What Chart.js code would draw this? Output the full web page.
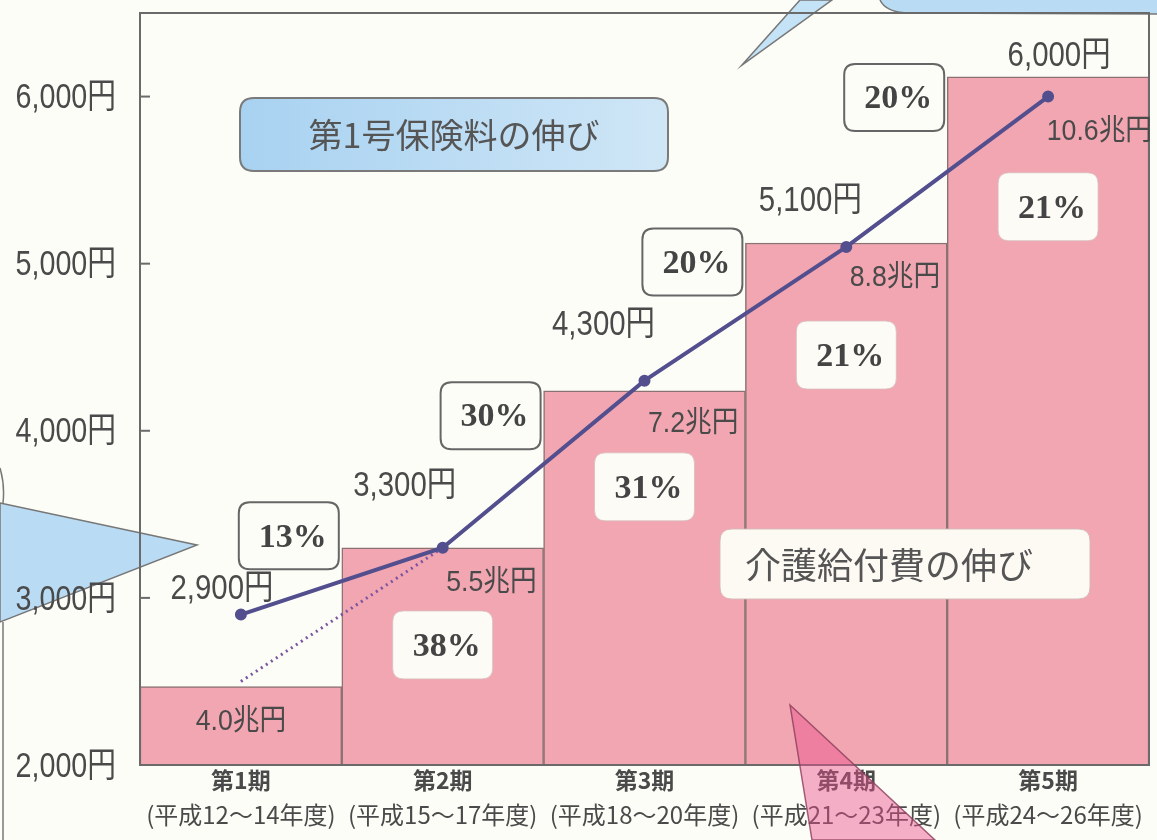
<!DOCTYPE html>
<html><head><meta charset="utf-8">
<script src="https://cdn.jsdelivr.net/npm/chart.js@4.4.1/dist/chart.umd.min.js"></script>
<style>html,body{margin:0;padding:0;background:#fdfdf8;} #wrap{width:1157px;height:840px;position:relative;}</style>
</head><body><div id="wrap"><canvas id="c" width="1157" height="840"></canvas></div>
<script>
// ---- data ----
const periods = ['第1期','第2期','第3期','第4期','第5期'];
const fiscalYears = ['(平成12～14年度)','(平成15～17年度)','(平成18～20年度)','(平成21～23年度)','(平成24～26年度)'];
const premiumYen = [2900, 3300, 4300, 5100, 6000];
const premiumGrowth = ['13%', '30%', '20%', '20%'];
const benefitTrillion = [4.0, 5.5, 7.2, 8.8, 10.6];
const benefitGrowth = ['38%', '31%', '21%', '21%'];
const trendYen = [2500, 3300, null, null, null];
const yTicks = [2000, 3000, 4000, 5000, 6000];

// ---- layout (offsets only) ----
const premLabelOff = [[-19,-25],[-38,-61],[-41,-55],[-36,-46],[11,-40]];
const premGrowthDy = [-12, 35, 15, 1];
const benLabelDy = [36, 35, 33, 35, 55];
const benGrowthDy = [97, 96, 112, 130];

const SANS = '"Liberation Sans","Noto Sans CJK JP",sans-serif';
const CJK = '"Noto Sans CJK JP","Noto Sans",sans-serif';
const SERIF = '"Liberation Serif","DejaVu Serif",serif';
const TXT = '#4a4a4a';

function rr(ctx, x, y, w, h, r) {
  ctx.beginPath();
  ctx.moveTo(x + r, y);
  ctx.lineTo(x + w - r, y); ctx.quadraticCurveTo(x + w, y, x + w, y + r);
  ctx.lineTo(x + w, y + h - r); ctx.quadraticCurveTo(x + w, y + h, x + w - r, y + h);
  ctx.lineTo(x + r, y + h); ctx.quadraticCurveTo(x, y + h, x, y + h - r);
  ctx.lineTo(x, y + r); ctx.quadraticCurveTo(x, y, x + r, y);
  ctx.closePath();
}
// condensed text: draw with horizontal squeeze
function narrowText(ctx, text, x, y, align, sx) {
  ctx.save();
  ctx.translate(x, y);
  ctx.scale(sx, 1);
  ctx.textAlign = align;
  ctx.fillText(text, 0, 0);
  ctx.restore();
}
function pctBox(ctx, cx, cy, w, h, text, fill, stroke, lw) {
  rr(ctx, cx - w/2, cy - h/2, w, h, 11);
  ctx.fillStyle = fill; ctx.fill();
  if (stroke) { ctx.strokeStyle = stroke; ctx.lineWidth = lw; ctx.stroke(); }
  ctx.fillStyle = '#444';
  ctx.font = 'bold 34px ' + SERIF;
  ctx.textAlign = 'center'; ctx.textBaseline = 'middle';
  ctx.fillText(text, cx + 4, cy + 2);
}

const deco = {
  id: 'deco',
  beforeDraw(chart) {
    const ctx = chart.ctx;
    ctx.save();
    ctx.fillStyle = '#fdfdf8';
    ctx.fillRect(0, 0, chart.width, chart.height);
    ctx.beginPath();
    ctx.moveTo(0, 503); ctx.lineTo(197, 545); ctx.lineTo(0, 622); ctx.closePath();
    ctx.fillStyle = '#b9dcf4'; ctx.fill();
    ctx.strokeStyle = '#777'; ctx.lineWidth = 1.5; ctx.stroke();
    ctx.beginPath(); ctx.moveTo(3, 622); ctx.lineTo(3, 840); ctx.stroke();
    ctx.beginPath(); ctx.moveTo(0, 468); ctx.quadraticCurveTo(5, 485, 3, 503); ctx.stroke();
    ctx.beginPath();
    ctx.moveTo(742, 65); ctx.lineTo(800, 0); ctx.lineTo(832, 0); ctx.closePath();
    ctx.fillStyle = '#c4e3f6'; ctx.fill(); ctx.stroke();
    ctx.beginPath();
    ctx.moveTo(880, 0); ctx.quadraticCurveTo(886, 13, 910, 13); ctx.lineTo(1157, 14); ctx.lineTo(1157, 0); ctx.closePath();
    ctx.fillStyle = '#b9dcf4'; ctx.fill();
    ctx.beginPath(); ctx.moveTo(880, 0); ctx.quadraticCurveTo(886, 13, 910, 13); ctx.lineTo(1157, 14); ctx.stroke();
    ctx.restore();
  },
  afterDatasetsDraw(chart) {
    const ctx = chart.ctx, a = chart.chartArea, ys = chart.scales.y;
    const bars = chart.getDatasetMeta(0).data;
    const pts = chart.getDatasetMeta(1).data;
    ctx.save();
    ctx.strokeStyle = '#6a6a6a'; ctx.lineWidth = 2;
    ctx.strokeRect(a.left, a.top, a.right - a.left, a.bottom - a.top);
    ctx.font = '35px ' + SANS; ctx.fillStyle = TXT; ctx.textBaseline = 'middle';
    yTicks.forEach(v => {
      const py = ys.getPixelForValue(v);
      ctx.beginPath(); ctx.moveTo(a.left, py); ctx.lineTo(a.left + 10, py); ctx.stroke();
      narrowText(ctx, v.toLocaleString('en-US') + '円', a.left - 24, py + 2, 'right', 0.82);
    });
    const g = ctx.createLinearGradient(a.left + 100, 0, a.left + 528, 0);
    g.addColorStop(0, '#a8d2f1'); g.addColorStop(1, '#cfe6f6');
    rr(ctx, a.left + 100, a.top + 85, 428, 73, 14);
    ctx.fillStyle = g; ctx.fill(); ctx.strokeStyle = '#7a7a7a'; ctx.lineWidth = 2; ctx.stroke();
    ctx.fillStyle = '#555'; ctx.font = '34px ' + CJK; ctx.textAlign = 'center'; ctx.textBaseline = 'middle';
    ctx.fillText('第1号保険料の伸び', a.left + 314, a.top + 122);

    rr(ctx, a.left + 580, a.top + 516, 370, 70, 12);
    ctx.fillStyle = '#fdf9f3'; ctx.fill(); ctx.strokeStyle = 'rgba(210,185,185,0.9)'; ctx.lineWidth = 1; ctx.stroke();
    ctx.fillStyle = '#555'; ctx.font = '36px ' + CJK; ctx.textAlign = 'left';
    ctx.fillText('介護給付費の伸び', a.left + 605, a.top + 552);

    ctx.font = '29px ' + SANS; ctx.fillStyle = TXT;
    bars.forEach((b, i) => {
      const t = benefitTrillion[i].toFixed(1) + '兆円';
      const right = b.x + b.width / 2;
      if (i === 0) narrowText(ctx, t, b.x, b.y + benLabelDy[i], 'center', 0.92);
      else if (i === bars.length - 1) narrowText(ctx, t, right + 3, b.y + benLabelDy[i], 'right', 0.92);
      else narrowText(ctx, t, right - 7, b.y + benLabelDy[i], 'right', 0.92);
    });
    benefitGrowth.forEach((t, k) => {
      const b = bars[k + 1];
      pctBox(ctx, b.x, b.y + benGrowthDy[k], 100, 68, t, '#fdfbf6', 'rgba(215,190,190,0.8)', 1);
    });
    ctx.font = '35px ' + SANS; ctx.fillStyle = TXT; ctx.textBaseline = 'middle';
    pts.forEach((p, i) => {
      const t = premiumYen[i].toLocaleString('en-US') + '円';
      narrowText(ctx, t, p.x + premLabelOff[i][0], p.y + premLabelOff[i][1], 'center', 0.84);
    });
    premiumGrowth.forEach((t, k) => {
      const b = bars[k];
      const rightEdge = b.x + b.width / 2 - 3;
      pctBox(ctx, rightEdge - 50, pts[k + 1].y + premGrowthDy[k], 100, 67, t, '#fdfdf8', '#666', 2);
    });
    const xs = chart.scales.x;
    periods.forEach((p, i) => {
      const cx = xs.getPixelForValue(i);
      ctx.fillStyle = '#4a4a4a'; ctx.textAlign = 'center';
      ctx.font = 'bold 23px ' + CJK;
      ctx.fillText(p, cx, a.bottom + 15);
      ctx.font = '24px ' + CJK;
      narrowText(ctx, fiscalYears[i], cx, a.bottom + 50, 'center', 1.0);
    });
    ctx.restore();
  },
  afterDraw(chart) {
    const ctx = chart.ctx;
    ctx.save();
    ctx.beginPath();
    ctx.moveTo(790, 705); ctx.lineTo(812, 840); ctx.lineTo(935, 840); ctx.closePath();
    ctx.fillStyle = 'rgba(232,80,140,0.45)'; ctx.fill();
    ctx.strokeStyle = 'rgba(140,60,90,0.8)'; ctx.lineWidth = 1.5; ctx.stroke();
    ctx.restore();
  }
};

new Chart(document.getElementById('c'), {
  data: {
    labels: periods,
    datasets: [
      { type: 'bar', data: benefitTrillion, yAxisID: 'y2', backgroundColor: '#f2a6b1',
        borderColor: '#8a7272', borderWidth: 1.5, barPercentage: 1, categoryPercentage: 1, order: 3 },
      { type: 'line', data: premiumYen, yAxisID: 'y', borderColor: '#534f8e', backgroundColor: '#534f8e',
        borderWidth: 4, pointRadius: 4, pointBackgroundColor: '#534f8e', tension: 0, order: 1 },
      { type: 'line', data: trendYen, yAxisID: 'y', borderColor: '#7a55a0', borderWidth: 3,
        borderDash: [2, 4], pointRadius: 0, spanGaps: false, order: 2 }
    ]
  },
  options: {
    responsive: false, animation: false, devicePixelRatio: 1,
    layout: { padding: { top: 13, right: 7, left: 0, bottom: 0 } },
    plugins: { legend: { display: false }, tooltip: { enabled: false } },
    scales: {
      x: { grid: { display: false, drawTicks: false }, border: { display: false },
           ticks: { display: false },
           afterFit(s) { s.height = 75; s.paddingLeft = 0; s.paddingRight = 0; } },
      y: { min: 2000, max: 6500, position: 'left',
           grid: { display: false, drawTicks: false }, border: { display: false },
           afterBuildTicks(s) { s.ticks = yTicks.map(v => ({ value: v })); },
           ticks: { display: false },
           afterFit(s) { s.width = 140; s.paddingTop = 0; s.paddingBottom = 0; } },
      y2: { display: false, min: 3.15, max: 11.29, position: 'right' }
    }
  },
  plugins: [deco]
});
</script>
</body></html>
